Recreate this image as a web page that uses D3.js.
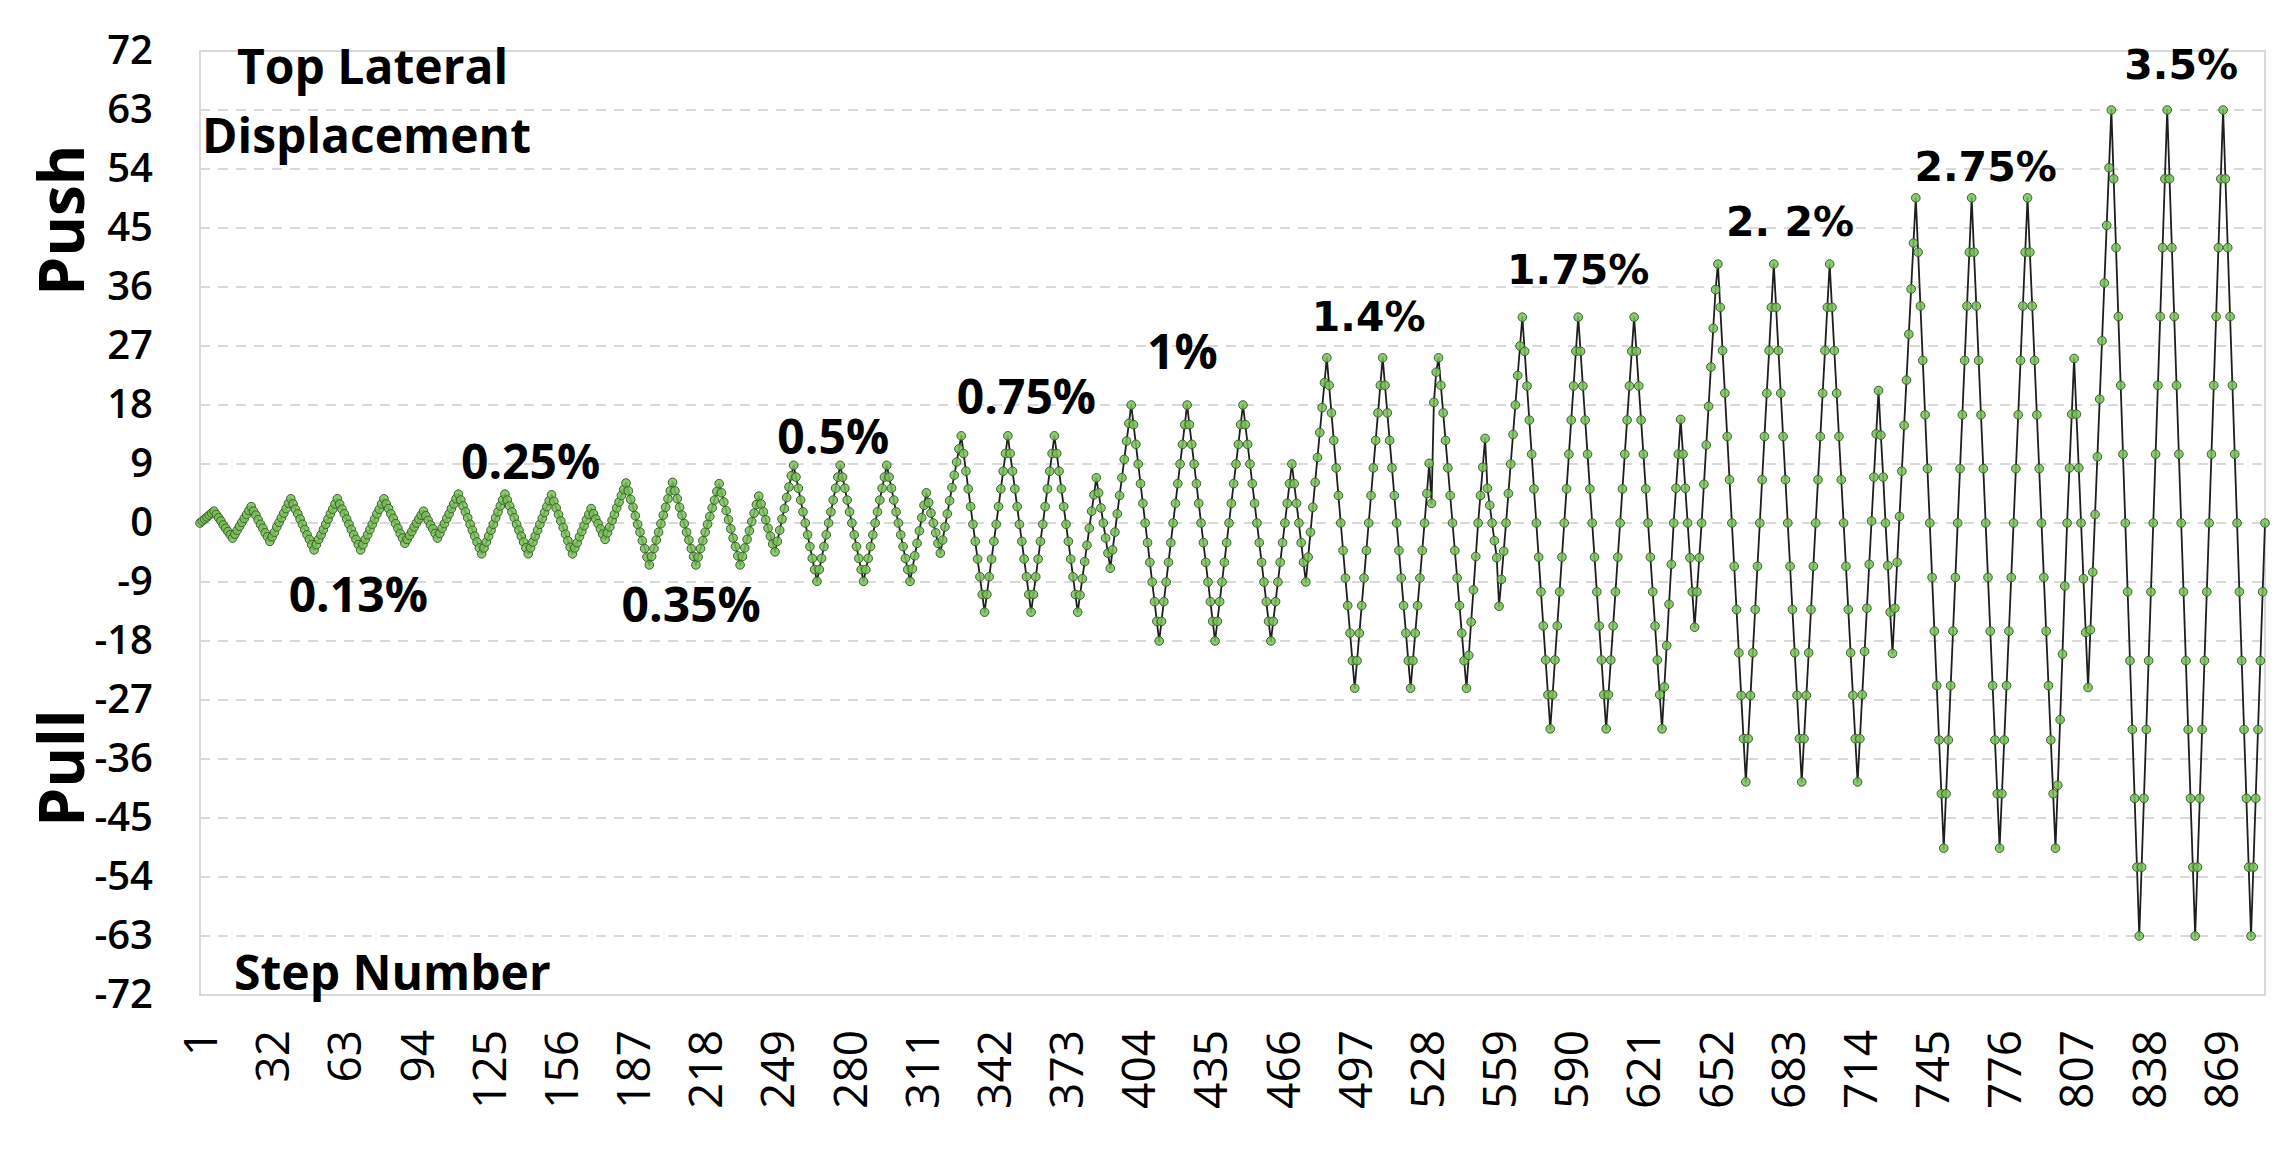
<!DOCTYPE html>
<html>
<head>
<meta charset="utf-8">
<script src="https://cdn.jsdelivr.net/npm/d3@7"></script>
<style>
  html, body { margin: 0; padding: 0; background: #ffffff; }
  svg { display: block; }
</style>
</head>
<body>
<svg id="chart" width="2295" height="1157"></svg>
<script>
// ---------------- DATA (top lateral displacement per step) ----------------
const drift013 = [
  0,
  0.3,0.6,0.9,1.2,1.5,1.8,
  1.3,0.8,0.3,-0.3,-0.8,-1.3,-1.8,-2.3,
  -1.7,-1.1,-0.5,0.1,0.7,1.3,1.9,2.5,
  1.8,1.2,0.5,-0.2,-0.8,-1.5,-2.1,-2.8,
  -2.1,-1.4,-0.6,0.1,0.8,1.5,2.2,3.0,3.7,
  2.9,2.1,1.4,0.6,-0.2,-1.0,-1.8,-2.5,-3.3,-4.1,
  -3.3,-2.5,-1.8,-1.0,-0.2,0.6,1.4,2.1,2.9,3.7,
  2.9,2.1,1.4,0.6,-0.2,-1.0,-1.8,-2.5,-3.3,-4.1,
  -3.3,-2.5,-1.8,-1.0,-0.2,0.6,1.4,2.1,2.9,3.7,
  2.9,2.2,1.4,0.7,-0.1,-0.8,-1.6,-2.3,-3.1
];
const drift025 = [
  -2.5,-1.9,-1.3,-0.6,0.0,0.6,1.2,1.8,
  1.1,0.4,-0.3,-0.9,-1.6,-2.3,
  -1.6,-0.8,-0.1,0.7,1.4,2.2,2.9,3.7,4.4,
  3.5,2.6,1.7,0.8,-0.2,-1.1,-2.0,-2.9,-3.8,-4.7,
  -3.8,-2.9,-2.0,-1.1,-0.2,0.8,1.7,2.6,3.5,4.4,
  3.5,2.6,1.7,0.8,-0.2,-1.1,-2.0,-2.9,-3.8,-4.7,
  -3.8,-2.9,-2.0,-1.1,-0.2,0.7,1.6,2.5,3.4,4.3,
  3.3,2.3,1.3,0.3,-0.7,-1.7,-2.7,-3.7,-4.7
];
const drift035 = [
  -3.8,-3.0,-2.1,-1.3,-0.4,0.5,1.3,2.2,
  1.4,0.6,-0.1,-0.9,-1.7,-2.5,
  -1.5,-0.6,0.4,1.3,2.3,3.2,4.2,5.1,6.1,
  4.9,3.6,2.4,1.1,-0.2,-1.4,-2.7,-3.9,-5.2,-6.4,
  -5.1,-3.9,-2.6,-1.4,-0.1,1.2,2.4,3.7,4.9,6.2,
  4.9,3.7,2.4,1.2,-0.1,-1.4,-2.6,-3.9,-5.1,-6.4,
  -5.2,-3.9,-2.7,-1.4,-0.2,1.0,2.3,3.5,4.8,6.0,
  4.6,3.2,1.9,0.5,-0.9,-2.3,-3.6,-5.0,-6.4
];
const drift05 = [
  -5.1,-3.8,-2.5,-1.2,0.2,1.5,2.8,4.1,
  2.9,1.7,0.5,-0.8,-2.0,-3.2,-4.4,
  -2.8,-1.1,0.6,2.2,3.9,5.5,7.2,8.8,
  7.0,5.3,3.5,1.7,0.0,-1.8,-3.6,-5.4,-7.1,-8.9,
  -7.1,-5.4,-3.6,-1.8,0.0,1.7,3.5,5.3,7.0,8.8,
  7.0,5.3,3.5,1.7,0.0,-1.8,-3.6,-5.4,-7.1,-8.9,
  -7.1,-5.4,-3.6,-1.8,0.0,1.7,3.5,5.3,7.0,8.8,
  7.0,5.3,3.5,1.7,0.0,-1.8,-3.6,-5.4,-7.1,-8.9
];
const drift075 = [
  -7.0,-5.0,-3.1,-1.2,0.8,2.7,4.6,
  3.1,1.5,0.0,-1.5,-3.1,-4.6,
  -2.6,-0.6,1.4,3.4,5.4,7.3,9.3,11.3,13.3,
  10.6,7.9,5.2,2.5,-0.2,-2.8,-5.5,-8.2,-10.9,-13.6,
  -10.9,-8.2,-5.5,-2.8,-0.2,2.5,5.2,7.9,10.6,13.3,
  10.6,7.9,5.2,2.5,-0.2,-2.8,-5.5,-8.2,-10.9,-13.6,
  -10.9,-8.2,-5.5,-2.8,-0.2,2.5,5.2,7.9,10.6,13.3,
  10.6,7.9,5.2,2.5,-0.2,-2.8,-5.5,-8.2,-10.9,-13.6
];
const drift1 = [
  -11.0,-8.5,-5.9,-3.4,-0.8,1.8,4.3,6.9,
  4.6,2.3,0.0,-2.3,-4.6,-6.9,
  -4.1,-1.4,1.4,4.2,6.9,9.7,12.5,15.2,18.0,
  15,12,9,6,3,0,-3,-6,-9,-12,-15,-18,
  -15,-12,-9,-6,-3,0,3,6,9,12,15,18,
  15,12,9,6,3,0,-3,-6,-9,-12,-15,-18,
  -15,-12,-9,-6,-3,0,3,6,9,12,15,18,
  15,12,9,6,3,0,-3,-6,-9,-12,-15,-18
];
const drift14 = [
  -15,-12,-9,-6,-3,0,3,6,9,
  6,3,0,-3,-6,-9,
  -5.2,-1.4,2.4,6.2,10.0,13.8,17.6,21.4,25.2,
  21.0,16.8,12.6,8.4,4.2,0.0,-4.2,-8.4,-12.6,-16.8,-21.0,-25.2,
  -21.0,-16.8,-12.6,-8.4,-4.2,0.0,4.2,8.4,12.6,16.8,21.0,25.2,
  21.0,16.8,12.6,8.4,4.2,0.0,-4.2,-8.4,-12.6,-16.8,-21.0,-25.2,
  -21.0,-16.8,-12.6,-8.4,-4.2,0.0,4.5,9.1,3.0,18.4,23.0,25.2,
  21.0,16.8,12.6,8.4,4.2,0.0,-4.2,-8.4,-12.6,-16.8,-21.0,-25.2
];
const drift175 = [
  -20.2,-15.1,-10.2,-5.1,0.0,4.2,8.5,12.9,
  5.3,2.7,0.0,-2.7,-5.3,-12.7,
  -8.6,-4.3,0.0,4.5,9.0,13.5,18.0,22.5,27.0,31.4,
  26.2,20.9,15.7,10.5,5.2,0.0,-5.2,-10.5,-15.7,-20.9,-26.2,-31.4,
  -26.2,-20.9,-15.7,-10.5,-5.2,0.0,5.2,10.5,15.7,20.9,26.2,31.4,
  26.2,20.9,15.7,10.5,5.2,0.0,-5.2,-10.5,-15.7,-20.9,-26.2,-31.4,
  -26.2,-20.9,-15.7,-10.5,-5.2,0.0,5.2,10.5,15.7,20.9,26.2,31.4,
  26.2,20.9,15.7,10.5,5.2,0.0,-5.2,-10.5,-15.7,-20.9,-26.2,-31.4
];
const drift22 = [
  -25.0,-18.7,-12.4,-6.3,0.0,5.3,10.5,15.8,
  10.5,5.3,0.0,-5.3,-10.5,-15.9,
  -10.5,-5.3,0.0,5.9,11.9,17.8,23.8,29.7,35.6,39.5,
  32.9,26.3,19.8,13.2,6.6,0.0,-6.6,-13.2,-19.8,-26.3,-32.9,-39.5,
  -32.9,-26.3,-19.8,-13.2,-6.6,0.0,6.6,13.2,19.8,26.3,32.9,39.5,
  32.9,26.3,19.8,13.2,6.6,0.0,-6.6,-13.2,-19.8,-26.3,-32.9,-39.5,
  -32.9,-26.3,-19.8,-13.2,-6.6,0.0,6.6,13.2,19.8,26.3,32.9,39.5,
  32.9,26.3,19.8,13.2,6.6,0.0,-6.6,-13.2,-19.8,-26.3,-32.9,-39.5
];
const drift275 = [
  -32.9,-26.2,-19.6,-13.0,-6.3,0.3,7.0,13.6,20.2,
  13.4,7.0,0.0,-6.5,-13.6,-19.9,
  -13.0,-6.0,1.0,7.9,14.9,21.8,28.8,35.7,42.7,49.6,
  41.3,33.1,24.8,16.5,8.3,0.0,-8.3,-16.5,-24.8,-33.1,-41.3,-49.6,
  -41.3,-33.1,-24.8,-16.5,-8.3,0.0,8.3,16.5,24.8,33.1,41.3,49.6,
  41.3,33.1,24.8,16.5,8.3,0.0,-8.3,-16.5,-24.8,-33.1,-41.3,-49.6,
  -41.3,-33.1,-24.8,-16.5,-8.3,0.0,8.3,16.5,24.8,33.1,41.3,49.6,
  41.3,33.1,24.8,16.5,8.3,0.0,-8.3,-16.5,-24.8,-33.1,-41.3,-49.6
];
const drift35 = [
  -40.0,-30.0,-20.0,-9.6,0.0,8.4,16.6,25.1,
  16.6,8.4,0.0,-8.5,-16.7,-25.1,
  -16.3,-7.5,1.3,10.1,18.9,27.8,36.6,45.4,54.2,63.0,
  52.5,42.0,31.5,21.0,10.5,0.0,-10.5,-21.0,-31.5,-42.0,-52.5,-63.0,
  -52.5,-42.0,-31.5,-21.0,-10.5,0.0,10.5,21.0,31.5,42.0,52.5,63.0,
  52.5,42.0,31.5,21.0,10.5,0.0,-10.5,-21.0,-31.5,-42.0,-52.5,-63.0,
  -52.5,-42.0,-31.5,-21.0,-10.5,0.0,10.5,21.0,31.5,42.0,52.5,63.0,
  52.5,42.0,31.5,21.0,10.5,0.0,-10.5,-21.0,-31.5,-42.0,-52.5,-63.0,
  -52.5,-42.0,-31.5,-21.0,-10.5,0.0
];

const xTickLabels = [1,32,63,94,125,156,187,218,249,280,311,342,373,404,435,466,497,528,559,590,621,652,683,714,745,776,807,838,869];
const yTickLabels = [-72,-63,-54,-45,-36,-27,-18,-9,0,9,18,27,36,45,54,63,72];

const annText  = ["0.13%","0.25%","0.35%","0.5%","0.75%","1%","1.4%","1.75%","2. 2%","2.75%","3.5%"];
const annStep  = [69,143,212,273,356,423,503,593,684,768,852];
const annValue = [-13.6,6.7,-15.1,10.5,16.6,23.5,29.3,36.5,43.8,52.2,67.7];

// ---------------- CHART ----------------
const values = [].concat(drift013, drift025, drift035, drift05, drift075, drift1,
                         drift14, drift175, drift22, drift275, drift35);
const series = values.map((v, i) => ({ step: i + 1, value: v }));

const W = 2295, H = 1157;
const plot = { left: 200, right: 2265, top: 51, bottom: 995 };

const svg = d3.select("#chart");
svg.append("rect").attr("width", W).attr("height", H).attr("fill", "#ffffff");

const x = d3.scaleLinear().domain([1, series.length]).range([plot.left, plot.right]);
const y = d3.scaleLinear().domain([-72, 72]).range([plot.bottom, plot.top]);

// gridlines (dashed)
svg.append("g").selectAll("line")
  .data(yTickLabels.filter(v => v > -72 && v < 72))
  .join("line")
  .attr("x1", plot.left).attr("x2", plot.right)
  .attr("y1", d => y(d)).attr("y2", d => y(d))
  .attr("stroke", "#d9d9d9").attr("stroke-width", 1.8)
  .attr("stroke-dasharray", "10,8");

// plot border
svg.append("rect")
  .attr("x", plot.left).attr("y", plot.top)
  .attr("width", plot.right - plot.left).attr("height", plot.bottom - plot.top)
  .attr("fill", "none").attr("stroke", "#d9d9d9").attr("stroke-width", 2);

// Y axis
const yAxis = svg.append("g")
  .attr("transform", `translate(${plot.left},0)`)
  .call(d3.axisLeft(y).tickValues(yTickLabels).tickSize(0).tickPadding(47).tickFormat(d => String(d)));
yAxis.select(".domain").remove();
yAxis.selectAll("text")
  .style("font-family", "'Open Sans', sans-serif")
  .style("font-size", "40px")
  .style("font-weight", "600")
  .attr("fill", "#000");

// X axis
const xAxis = svg.append("g")
  .attr("transform", `translate(0,${plot.bottom})`)
  .call(d3.axisBottom(x).tickValues(xTickLabels).tickSize(0).tickFormat(d => String(d)));
xAxis.select(".domain").remove();
xAxis.selectAll("text")
  .attr("transform", "rotate(-90)")
  .attr("x", -35).attr("y", 0).attr("dy", "0.36em")
  .style("text-anchor", "end")
  .style("font-family", "'Open Sans', sans-serif")
  .style("font-size", "46px")
  .style("font-weight", "400")
  .attr("fill", "#000");

// line
const line = d3.line().x(d => x(d.step)).y(d => y(d.value));
svg.append("path")
  .datum(series)
  .attr("d", line)
  .attr("fill", "none")
  .attr("stroke", "#1e1e1e")
  .attr("stroke-width", 1.8)
  .attr("stroke-linejoin", "round");

// markers
svg.append("g").selectAll("circle")
  .data(series)
  .join("circle")
  .attr("cx", d => x(d.step))
  .attr("cy", d => y(d.value))
  .attr("r", 4.3)
  .attr("fill", "#79bf57")
  .attr("fill-opacity", 0.85)
  .attr("stroke", "#3b5f2d")
  .attr("stroke-width", 1);

// drift annotations
const ann = svg.append("g");
annText.forEach((t, i) => {
  const wide = i >= 6;
  ann.append("text")
    .attr("x", x(annStep[i]))
    .attr("y", y(annValue[i]))
    .attr("text-anchor", "middle")
    .style("font-family", wide ? "'DejaVu Sans', sans-serif" : "'Open Sans', sans-serif")
    .style("font-size", wide ? "41px" : "48px")
    .style("font-weight", "700")
    .attr("fill", "#000")
    .text(t);
});

// titles inside plot
const titleStyle = sel => sel
  .style("font-family", "'Open Sans', sans-serif")
  .style("font-size", "48px")
  .style("font-weight", "700")
  .attr("fill", "#000");
svg.append("text").attr("x", 237).attr("y", 84).text("Top Lateral").call(titleStyle);
svg.append("text").attr("x", 202).attr("y", 153).text("Displacement").call(titleStyle);
svg.append("text").attr("x", 234).attr("y", 990).text("Step Number").call(titleStyle);

// Push / Pull
const sideStyle = sel => sel
  .style("font-family", "'Open Sans', sans-serif")
  .style("font-size", "62px")
  .style("font-weight", "700")
  .attr("fill", "#000")
  .attr("text-anchor", "middle");
svg.append("text").attr("transform", "translate(84,220) rotate(-90)").text("Push").call(sideStyle);
svg.append("text").attr("transform", "translate(84,768) rotate(-90)").text("Pull").call(sideStyle);
</script>
</body>
</html>
